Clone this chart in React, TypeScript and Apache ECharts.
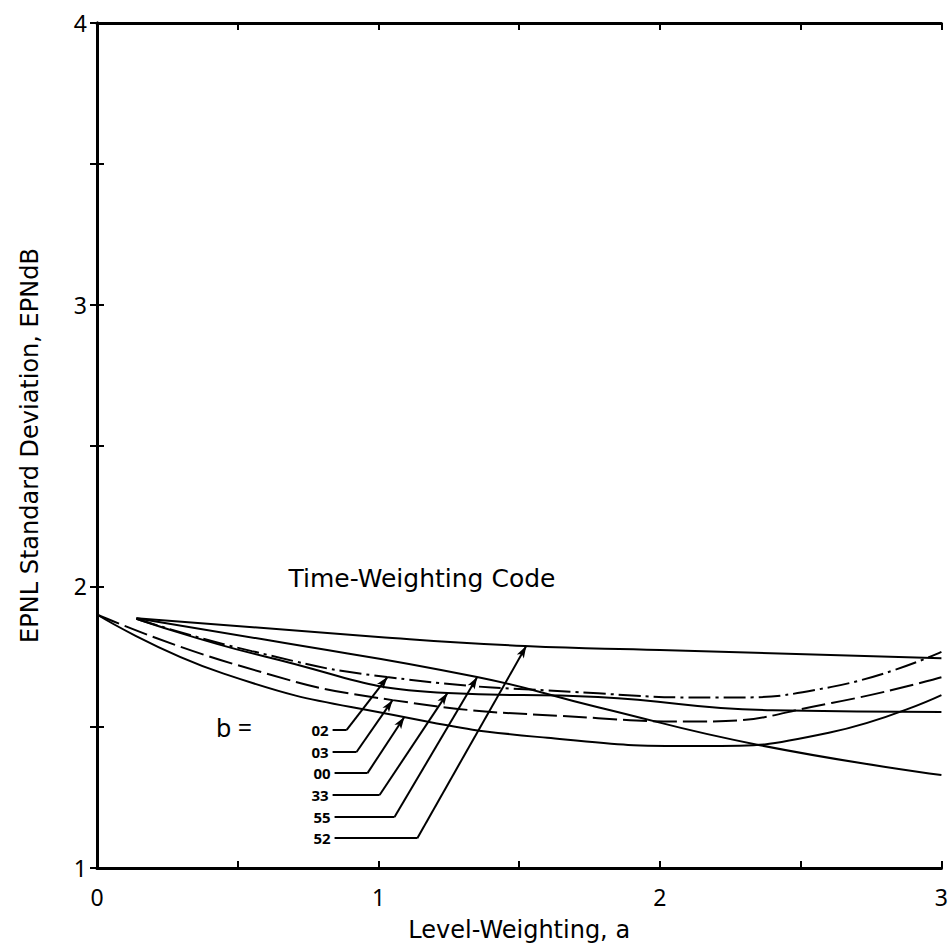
import React, { useEffect, useRef } from "react";
import * as echarts from "echarts";

// Curves: level-weighting a (x) vs EPNL standard deviation (y), one per time-weighting code b
const a52 = [0.14, 1.0, 1.52, 2.0, 3.0];
const v52 = [1.887, 1.82, 1.788, 1.774, 1.745];

const a55 = [0.14, 0.6, 1.35, 1.78, 2.35, 3.0];
const v55 = [1.887, 1.81, 1.678, 1.571, 1.437, 1.33];

const a02 = [0.14, 0.55, 1.03, 1.78, 2.2, 2.61, 3.0];
const v02 = [1.885, 1.77, 1.678, 1.62, 1.605, 1.643, 1.767];

const a33 = [0.14, 0.6, 1.245, 1.78, 2.4, 3.0];
const v33 = [1.885, 1.75, 1.621, 1.607, 1.56, 1.554];

const a03 = [0, 0.5, 1.05, 1.78, 2.15, 2.61, 3.0];
const v03 = [1.9, 1.72, 1.596, 1.532, 1.52, 1.586, 1.677];

const a00 = [0, 0.45, 1.09, 1.6, 2.14, 2.6, 3.0];
const v00 = [1.9, 1.69, 1.536, 1.462, 1.433, 1.48, 1.614];

// Leader lines from the "b =" code list to the curves
const codes = ["02", "03", "00", "33", "55", "52"];
const leaderStartA = [0.837, 0.837, 0.844, 0.837, 0.844, 0.844];
const leaderV = [1.49, 1.412, 1.337, 1.259, 1.181, 1.106];
const leaderBendA = [0.887, 0.922, 0.961, 1.004, 1.057, 1.138];
const leaderTipA = [1.032, 1.05, 1.092, 1.245, 1.351, 1.525];
const leaderTipV = [1.678, 1.596, 1.536, 1.621, 1.678, 1.788];

const xTickLabels = ["0", "1", "2", "3"];
const yTickLabels = ["1", "2", "3", "4"];

const FONT = "Noto Sans";
const WIDE = "DejaVu Sans";

function pairs(a: number[], v: number[]) {
  return a.map((x, i) => [x, v[i]]);
}

export default function App() {
  const ref = useRef<HTMLDivElement>(null);
  useEffect(() => {
    if (!ref.current) return;
    const chart = echarts.init(ref.current, undefined, { renderer: "svg" });

    const curveDefs = [
      { code: "52", a: a52, v: v52, type: "solid" as any },
      { code: "55", a: a55, v: v55, type: "solid" as any },
      { code: "02", a: a02, v: v02, type: [22, 5, 3, 5] as any },
      { code: "33", a: a33, v: v33, type: "solid" as any },
      { code: "03", a: a03, v: v03, type: [24, 6] as any },
      { code: "00", a: a00, v: v00, type: "solid" as any },
    ];

    const leaderData: any[] = [];
    codes.forEach((c, i) => {
      leaderData.push([
        {
          coord: [leaderStartA[i], leaderV[i]],
          symbol: "none",
          label: {
            show: true,
            position: "start",
            formatter: c,
            distance: 4,
            color: "#000",
            fontSize: 15,
            fontWeight: "bold",
            fontFamily: FONT,
          },
        },
        { coord: [leaderBendA[i], leaderV[i]], symbol: "none" },
      ]);
      leaderData.push([
        { coord: [leaderBendA[i], leaderV[i]], symbol: "none", label: { show: false } },
        { coord: [leaderTipA[i], leaderTipV[i]], symbol: "arrow", symbolSize: [6, 12] },
      ]);
    });

    const series: any[] = curveDefs.map((d) => ({
      name: d.code,
      type: "line",
      smooth: 0.5,
      symbol: "none",
      data: pairs(d.a, d.v),
      lineStyle: { color: "#000", width: 2, type: d.type },
      z: 3,
    }));

    series.push({
      name: "leaders",
      type: "line",
      data: [],
      markLine: {
        silent: true,
        animation: false,
        symbol: ["none", "arrow"],
        lineStyle: { color: "#000", width: 2, type: "solid" },
        label: { show: false },
        data: leaderData,
      },
    });

    const axisLineStyle = { color: "#000", width: 3 };
    const tickStyle = { color: "#000", width: 2 };

    chart.setOption({
      animation: false,
      backgroundColor: "#fff",
      grid: { left: 97, right: 8, top: 23, bottom: 81, containLabel: false },
      xAxis: [
        {
          type: "value",
          min: 0,
          max: 3,
          interval: 0.5,
          position: "bottom",
          axisLine: { show: true, lineStyle: axisLineStyle },
          axisTick: { show: true, inside: true, length: 7, lineStyle: tickStyle },
          splitLine: { show: false },
          axisLabel: {
            color: "#000",
            fontSize: 23,
            fontFamily: FONT,
            margin: 17,
            formatter: (val: number) =>
              Number.isInteger(val) ? xTickLabels[val] ?? "" : "",
          },
          name: "Level-Weighting, a",
          nameLocation: "middle",
          nameGap: 50,
          nameTextStyle: { color: "#000", fontSize: 24, fontFamily: WIDE },
        },
        {
          type: "value",
          min: 0,
          max: 3,
          interval: 0.5,
          position: "top",
          axisLine: { show: true, lineStyle: axisLineStyle },
          axisTick: { show: true, inside: true, length: 7, lineStyle: tickStyle },
          splitLine: { show: false },
          axisLabel: { show: false },
        },
      ],
      yAxis: [
        {
          type: "value",
          min: 1,
          max: 4,
          interval: 0.5,
          position: "left",
          axisLine: { show: true, lineStyle: axisLineStyle },
          axisTick: { show: true, inside: true, length: 7, lineStyle: tickStyle },
          splitLine: { show: false },
          axisLabel: {
            color: "#000",
            fontSize: 23,
            fontFamily: FONT,
            margin: 10,
            formatter: (val: number) =>
              Number.isInteger(val) ? yTickLabels[val - 1] ?? "" : "",
          },
          name: "EPNL Standard Deviation, EPNdB",
          nameLocation: "middle",
          nameGap: 55,
          nameTextStyle: { color: "#000", fontSize: 24, fontFamily: WIDE },
        },
        {
          type: "value",
          min: 1,
          max: 4,
          interval: 0.5,
          position: "right",
          axisLine: { show: true, lineStyle: axisLineStyle },
          axisTick: { show: true, inside: true, length: 7, lineStyle: tickStyle },
          splitLine: { show: false },
          axisLabel: { show: false },
        },
      ],
      graphic: [
        {
          type: "text",
          x: 422,
          y: 578,
          style: {
            text: "Time-Weighting Code",
            font: `25px ${WIDE}`,
            fill: "#000",
            align: "center",
            verticalAlign: "middle",
          },
        },
        {
          type: "text",
          x: 234,
          y: 727,
          style: {
            text: "b =",
            font: `25px ${FONT}`,
            fill: "#000",
            align: "center",
            verticalAlign: "middle",
          },
        },
      ],
      series,
    });

    return () => chart.dispose();
  }, []);

  return (
    <div
      ref={ref}
      style={{ position: "fixed", left: 0, top: 0, width: 951, height: 949, background: "#fff" }}
    />
  );
}
